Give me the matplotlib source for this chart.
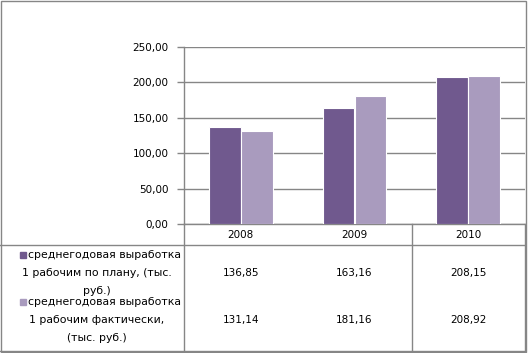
import numpy as np
import matplotlib.pyplot as plt
from matplotlib.lines import Line2D
from matplotlib.patches import Rectangle

# данные
years = ["2008", "2009", "2010"]
plan = [136.85, 163.16, 208.15]
fact = [131.14, 181.16, 208.92]
plan_label = ["среднегодовая выработка", "1 рабочим по плану, (тыс.", "руб.)"]
fact_label = ["среднегодовая выработка", "1 рабочим фактически,", "(тыс. руб.)"]
yticks = [0, 50, 100, 150, 200, 250]

c_plan = "#70598E"
c_fact = "#A99BBE"
grey = "#868686"

plt.rcParams['font.family'] = ['DejaVu Sans']

W, H = 528, 353
fig = plt.figure(figsize=(W / 100, H / 100), dpi=100)


def px(x):
    return x / W


def py(y):
    return 1 - y / H


ax = fig.add_axes([px(184), py(224), px(525) - px(184), py(47) - py(224)])

x = np.arange(len(years))
w = 0.28
ax.bar(x - w / 2, plan, width=w, color=c_plan, edgecolor="white", linewidth=0.8, zorder=3)
ax.bar(x + w / 2, fact, width=w, color=c_fact, edgecolor="white", linewidth=0.8, zorder=3)

ax.set_xlim(-0.5, len(years) - 0.5)
ax.set_ylim(0, 250)
ax.set_yticks(yticks)
ax.set_yticklabels([f"{v:.2f}".replace(".", ",") for v in yticks], fontsize=7.5)
ax.set_xticks([])
ax.yaxis.grid(True, color=grey, linewidth=1, zorder=0)
ax.tick_params(axis="y", length=5, color=grey, width=1, pad=6)
for s in ["top", "right"]:
    ax.spines[s].set_visible(False)
for s in ["left", "bottom"]:
    ax.spines[s].set_color(grey)
    ax.spines[s].set_linewidth(1)

# таблица данных под графиком
col_w = (px(525) - px(184)) / len(years)
for i, yr in enumerate(years):
    cx = px(184) + col_w * (i + 0.5)
    fig.text(cx, py(235), yr, ha="center", va="center", fontsize=7.5)
    fig.text(cx, py(273), f"{plan[i]:.2f}".replace(".", ","), ha="center", va="center", fontsize=7.5)
    fig.text(cx, py(320), f"{fact[i]:.2f}".replace(".", ","), ha="center", va="center", fontsize=7.5)


def hline(y, x0, x1):
    fig.add_artist(Line2D([px(x0), px(x1)], [py(y), py(y)], color=grey, linewidth=1))


def vline(x0, y0, y1):
    fig.add_artist(Line2D([px(x0), px(x0)], [py(y0), py(y1)], color=grey, linewidth=1))


hline(245, 0, 525)
hline(351, 0, 525)
vline(184, 224, 351)
vline(412, 224, 351)
vline(525, 224, 351)

# рамка
fig.add_artist(Rectangle((px(0.5), py(352)), px(526) - px(0.5), py(0.5) - py(352),
                         fill=False, edgecolor=grey, linewidth=1))

# подписи рядов
for lines, col, ys in [(plan_label, c_plan, [255, 273, 291]),
                       (fact_label, c_fact, [302, 320, 338])]:
    fig.add_artist(Rectangle((px(20), py(ys[0] + 3)), px(6), 6 / H, color=col))
    fig.text(px(28), py(ys[0]), lines[0], ha="left", va="center", fontsize=7.8)
    for t, yy in zip(lines[1:], ys[1:]):
        fig.text(px(97), py(yy), t, ha="center", va="center", fontsize=7.8)

plt.savefig("out.png", dpi=100)
